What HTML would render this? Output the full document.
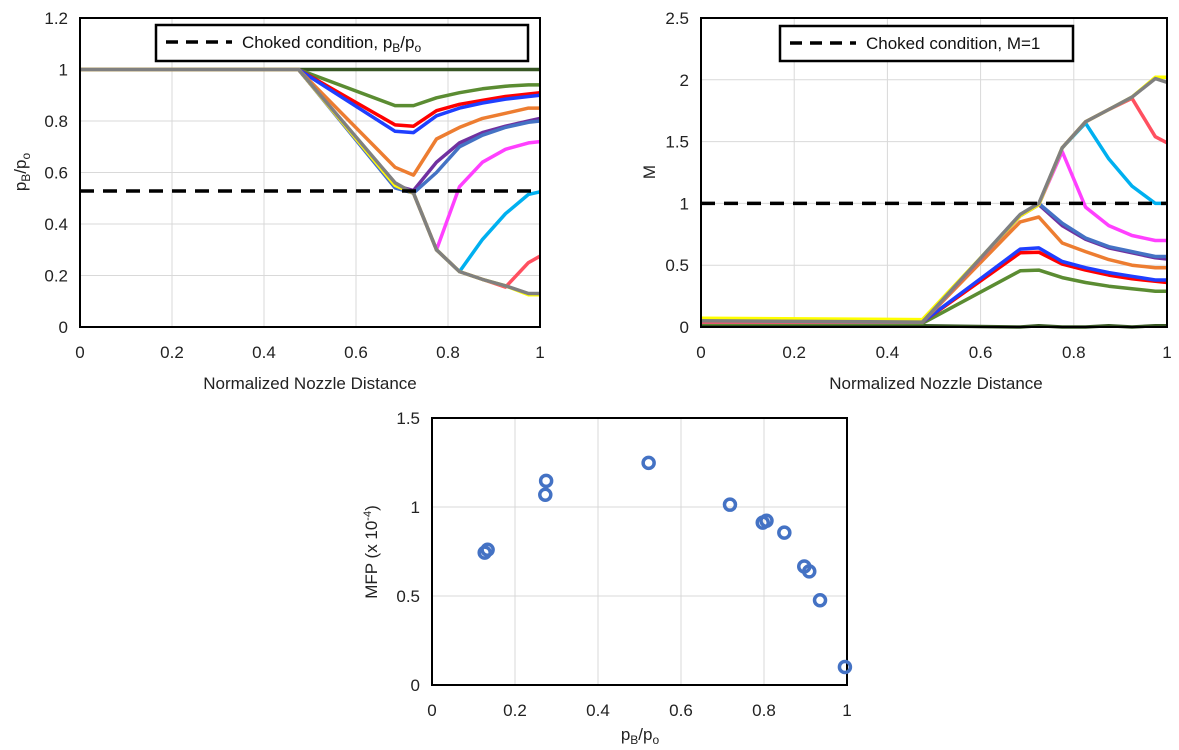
<!DOCTYPE html>
<html><head><meta charset="utf-8"><style>
body{margin:0;background:#fff;}
svg{display:block;font-family:"Liberation Sans",sans-serif;}
</style></head><body>
<svg id="s" width="1179" height="750" viewBox="0 0 1179 750"></svg>
<script>
const xs = [0,0.475,0.685,0.725,0.775,0.825,0.875,0.925,0.975,1];
const seriesColors = ['#375623','#5B8C32','#FF0000','#1F3FFF','#ED7D31','#7030A0','#4472C4','#FF40FF','#00B0F0','#FF5060','#FFFF00','#808080'];
const seriesNames = ['dark-green','green','red','blue','orange','purple','steel-blue','magenta','cyan','pink-red','yellow','gray'];
const pRatio = [
 [1,1,1,1,1,1,1,1,1,1],
 [1,1,0.86,0.86,0.89,0.91,0.925,0.935,0.94,0.94],
 [1,1,0.785,0.78,0.84,0.865,0.88,0.895,0.905,0.91],
 [1,1,0.76,0.755,0.82,0.85,0.87,0.885,0.895,0.9],
 [1,1,0.62,0.59,0.73,0.775,0.81,0.83,0.85,0.85],
 [1,1,0.55,0.53,0.64,0.715,0.755,0.78,0.80,0.81],
 [1,1,0.54,0.52,0.6,0.7,0.745,0.775,0.795,0.80],
 [1,1,0.55,0.52,0.3,0.545,0.64,0.69,0.715,0.72],
 [1,1,0.55,0.52,0.3,0.215,0.34,0.44,0.515,0.525],
 [1,1,0.55,0.52,0.3,0.215,0.185,0.155,0.25,0.275],
 [1,1,0.55,0.52,0.3,0.215,0.185,0.16,0.125,0.125],
 [1,1,0.56,0.52,0.3,0.215,0.185,0.16,0.13,0.13]
];
const mach = [
 [0.01,0.01,0.0,0.01,0.0,0.0,0.01,0.0,0.01,0.01],
 [0.03,0.03,0.455,0.46,0.40,0.36,0.33,0.31,0.29,0.29],
 [0.04,0.04,0.6,0.605,0.51,0.46,0.42,0.39,0.37,0.36],
 [0.04,0.04,0.63,0.64,0.53,0.48,0.44,0.41,0.38,0.38],
 [0.04,0.04,0.85,0.89,0.68,0.61,0.545,0.50,0.48,0.48],
 [0.04,0.04,0.9,0.99,0.82,0.71,0.64,0.6,0.56,0.55],
 [0.04,0.04,0.91,1.0,0.84,0.72,0.65,0.61,0.57,0.57],
 [0.04,0.04,0.9,0.99,1.42,0.97,0.82,0.74,0.70,0.70],
 [0.04,0.04,0.9,0.99,1.45,1.65,1.36,1.14,1.0,1.0],
 [0.04,0.04,0.9,0.99,1.45,1.66,1.76,1.85,1.54,1.49],
 [0.07,0.06,0.9,0.99,1.45,1.66,1.76,1.86,2.02,2.02],
 [0.05,0.04,0.91,1.0,1.45,1.66,1.76,1.86,2.01,1.98]
];
const mfpX = [0.127,0.134,0.273,0.275,0.522,0.718,0.797,0.806,0.849,0.897,0.909,0.935,0.995];
const mfpY = [0.744,0.76,1.069,1.147,1.248,1.013,0.912,0.923,0.856,0.666,0.638,0.476,0.101];
const chokedP = 0.528, chokedM = 1;

const S=document.getElementById('s'), NS='http://www.w3.org/2000/svg';
function mk(tag,attrs,parent,text){const e=document.createElementNS(NS,tag);for(const k in attrs)e.setAttribute(k,attrs[k]);if(text!==undefined)e.textContent=text;(parent||S).appendChild(e);return e;}

function chart(o){
  const g=mk('g',{});
  
  
  const X=v=>o.l+(v-o.x0)/(o.x1-o.x0)*(o.r-o.l);
  const Y=v=>o.b-(v-o.y0)/(o.y1-o.y0)*(o.b-o.t);
  o.xt.forEach(v=>{
    const ln=mk('line',{x1:X(v),x2:X(v),y1:o.t,y2:o.b,stroke:'#d9d9d9','stroke-width':1},g);
    
    
    const t=mk('text',{x:X(v),y:o.b+31,'text-anchor':'middle','font-size':17,fill:'#222'},g,String(v));
    
    
  });
  o.yt.forEach((v,i)=>{
    const ln=mk('line',{x1:o.l,x2:o.r,y1:Y(v),y2:Y(v),stroke:'#d9d9d9','stroke-width':1},g);
    
    
    const t=mk('text',{x:o.l-12,y:Y(v)+6,'text-anchor':'end','font-size':17,fill:'#222'},g,o.ytl[i]);
    
    
  });
  return {g,X,Y};
}
function frame(g,o){
  const r=mk('rect',{x:o.l,y:o.t,width:o.r-o.l,height:o.b-o.t,fill:'none',stroke:'#000','stroke-width':2},g);
  
  
}
function lines(c,g,data){
  data.forEach((arr,i)=>{
    const d=arr.map((v,j)=>(j?'L':'M')+c.X(xs[j]).toFixed(1)+','+c.Y(v).toFixed(1)).join('');
    const p=mk('path',{d:d,fill:'none',stroke:seriesColors[i],'stroke-width':3.5,'stroke-linejoin':'round'},g);
    
    
  });
}

// Chart 1
const o1={name:'pressure-chart',l:80,r:540,t:18,b:327,x0:0,x1:1,y0:0,y1:1.2,xt:[0,0.2,0.4,0.6,0.8,1],yt:[0,0.2,0.4,0.6,0.8,1,1.2],ytl:['0','0.2','0.4','0.6','0.8','1','1.2']};
const c1=chart(o1);
lines(c1,c1.g,pRatio);
let dl=mk('line',{x1:o1.l,x2:o1.r,y1:c1.Y(chokedP),y2:c1.Y(chokedP),stroke:'#000','stroke-width':3.5,'stroke-dasharray':'14,9'},c1.g);


frame(c1.g,o1);
let lg=mk('g',{},c1.g);


mk('rect',{x:156,y:25,width:372,height:36,fill:'#fff',stroke:'#000','stroke-width':2.5},lg);
mk('line',{x1:166,x2:232,y1:42,y2:42,stroke:'#000','stroke-width':3.5,'stroke-dasharray':'12,8'},lg);
let lt=mk('text',{x:242,y:48,'font-size':17,fill:'#111'},lg);
lt.innerHTML='Choked condition, p<tspan font-size="12" dy="4">B</tspan><tspan dy="-4">/p</tspan><tspan font-size="12" dy="4">o</tspan>';
let xt1=mk('text',{x:310,y:389,'text-anchor':'middle','font-size':17,fill:'#222'},c1.g,'Normalized Nozzle Distance');


let yt1=mk('text',{x:0,y:0,'text-anchor':'middle','font-size':17,fill:'#222',transform:'translate(26,172) rotate(-90)'},c1.g);
yt1.innerHTML='p<tspan font-size="12" dy="4">B</tspan><tspan dy="-4">/p</tspan><tspan font-size="12" dy="4">o</tspan>';



// Chart 2
const o2={name:'mach-chart',l:701,r:1167,t:18,b:327,x0:0,x1:1,y0:0,y1:2.5,xt:[0,0.2,0.4,0.6,0.8,1],yt:[0,0.5,1,1.5,2,2.5],ytl:['0','0.5','1','1.5','2','2.5']};
const c2=chart(o2);
lines(c2,c2.g,mach);
dl=mk('line',{x1:o2.l,x2:o2.r,y1:c2.Y(chokedM),y2:c2.Y(chokedM),stroke:'#000','stroke-width':3.5,'stroke-dasharray':'14,9'},c2.g);


frame(c2.g,o2);
lg=mk('g',{},c2.g);


mk('rect',{x:780,y:26,width:293,height:35,fill:'#fff',stroke:'#000','stroke-width':2.5},lg);
mk('line',{x1:790,x2:856,y1:43,y2:43,stroke:'#000','stroke-width':3.5,'stroke-dasharray':'12,8'},lg);
mk('text',{x:866,y:49,'font-size':17,fill:'#111'},lg,'Choked condition, M=1');
let xt2=mk('text',{x:936,y:389,'text-anchor':'middle','font-size':17,fill:'#222'},c2.g,'Normalized Nozzle Distance');


let yt2=mk('text',{x:0,y:0,'text-anchor':'middle','font-size':17,fill:'#222',transform:'translate(655,172) rotate(-90)'},c2.g,'M');



// Chart 3
const o3={name:'mfp-chart',l:432,r:847,t:418,b:685,x0:0,x1:1,y0:0,y1:1.5,xt:[0,0.2,0.4,0.6,0.8,1],yt:[0,0.5,1,1.5],ytl:['0','0.5','1','1.5']};
const c3=chart(o3);
frame(c3.g,o3);
mfpX.forEach((v,i)=>{
  const c=mk('circle',{cx:c3.X(v),cy:c3.Y(mfpY[i]),r:5.5,fill:'none',stroke:'#4472C4','stroke-width':3.5},c3.g);
  
  
});
let xt3=mk('text',{x:640,y:740,'text-anchor':'middle','font-size':17,fill:'#222'},c3.g);
xt3.innerHTML='p<tspan font-size="12" dy="4">B</tspan><tspan dy="-4">/p</tspan><tspan font-size="12" dy="4">o</tspan>';


let yt3=mk('text',{x:0,y:0,'text-anchor':'middle','font-size':17,fill:'#222',transform:'translate(377,552) rotate(-90)'},c3.g);
yt3.innerHTML='MFP (x 10<tspan font-size="11" dy="-6">-4</tspan><tspan dy="6">)</tspan>';


</script>
</body></html>
